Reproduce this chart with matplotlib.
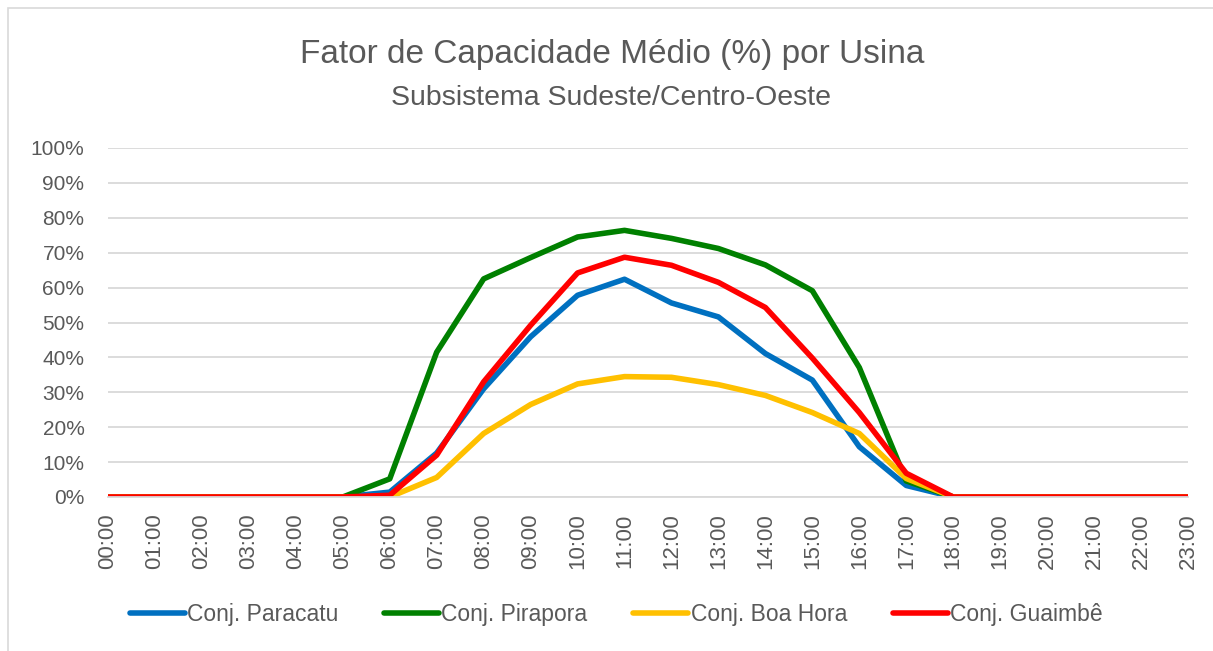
import matplotlib

matplotlib.use("Agg")

import matplotlib.pyplot as plt
from matplotlib.patches import Rectangle
from matplotlib.ticker import FuncFormatter, MultipleLocator

# ========================
# Data (percent)
# ========================
hours = [f"{h:02d}:00" for h in range(24)]

paracatu = [0, 0, 0, 0, 0, 0, 1.4, 12.6, 31.0, 45.9, 57.8, 62.4, 55.6, 51.6,
            41.1, 33.5, 14.4, 3.3, 0, 0, 0, 0, 0, 0]
pirapora = [0, 0, 0, 0, 0, 0, 5.2, 41.5, 62.5, 68.6, 74.5, 76.4, 74.1, 71.2,
            66.5, 59.1, 37.1, 4.6, 0, 0, 0, 0, 0, 0]
boa_hora = [0, 0, 0, 0, 0, 0, 0, 5.6, 18.2, 26.5, 32.4, 34.5, 34.3, 32.2,
            29.1, 24.2, 18.2, 5.3, 0, 0, 0, 0, 0, 0]
guaimbe = [0, 0, 0, 0, 0, 0, 0.5, 12.0, 33.0, 49.2, 64.2, 68.7, 66.4, 61.5,
           54.3, 39.8, 24.2, 6.8, 0, 0, 0, 0, 0, 0]

series = [
    ("Conj. Paracatu", paracatu, "#0070C0"),
    ("Conj. Pirapora", pirapora, "#008000"),
    ("Conj. Boa Hora", boa_hora, "#FFC000"),
    ("Conj. Guaimbê", guaimbe, "#FF0000"),
]

TEXT_COLOR = "#595959"
FONT = ["Liberation Sans", "DejaVu Sans"]

plt.rcParams["font.family"] = FONT

fig = plt.figure(figsize=(12.13, 6.51), dpi=100)
fig.patches.append(Rectangle((0.007, -0.01), 1.0, 0.998, transform=fig.transFigure,
                             fill=False, edgecolor="#D9D9D9", linewidth=1.2))

ax = fig.add_axes([108 / 1213, 1 - 497 / 651, (1188 - 108) / 1213, (497 - 148) / 651])

x = list(range(len(hours)))
for label, values, color in series:
    ax.plot(x, values, color=color, linewidth=4, label=label,
            solid_joinstyle="round", solid_capstyle="round")

ax.set_xlim(0, 23)
ax.set_ylim(0, 100)
ax.yaxis.set_major_locator(MultipleLocator(10))
ax.yaxis.set_major_formatter(FuncFormatter(lambda v, _: f"{v:.0f}%"))
ax.set_xticks(x)
ax.set_xticklabels(hours, rotation=90)

ax.grid(axis="y", color="#D9D9D9", linewidth=1.3)
ax.set_axisbelow(True)
for side in ("top", "right", "left"):
    ax.spines[side].set_visible(False)
ax.spines["bottom"].set_color("#D9D9D9")
ax.spines["bottom"].set_linewidth(1.3)
ax.tick_params(axis="both", length=0, colors=TEXT_COLOR)
ax.tick_params(axis="x", pad=12, labelsize=16)
ax.tick_params(axis="y", pad=17, labelsize=15)
for t in ax.get_yticklabels():
    t.set_ha("right")

fig.text(0.505, 1 - 55 / 651, "Fator de Capacidade Médio (%) por Usina",
         ha="center", va="center", fontsize=24, color=TEXT_COLOR)
fig.text(0.504, 1 - 98 / 651, "Subsistema Sudeste/Centro-Oeste",
         ha="center", va="center", fontsize=20.5, color=TEXT_COLOR)

leg = fig.legend(loc="center", bbox_to_anchor=(0.508, 1 - 615 / 651), ncol=4,
                 frameon=False, fontsize=16.5, handlelength=2.4, handletextpad=0.1,
                 columnspacing=2.0)
for t in leg.get_texts():
    t.set_color(TEXT_COLOR)

fig.savefig("out.png", dpi=100)
